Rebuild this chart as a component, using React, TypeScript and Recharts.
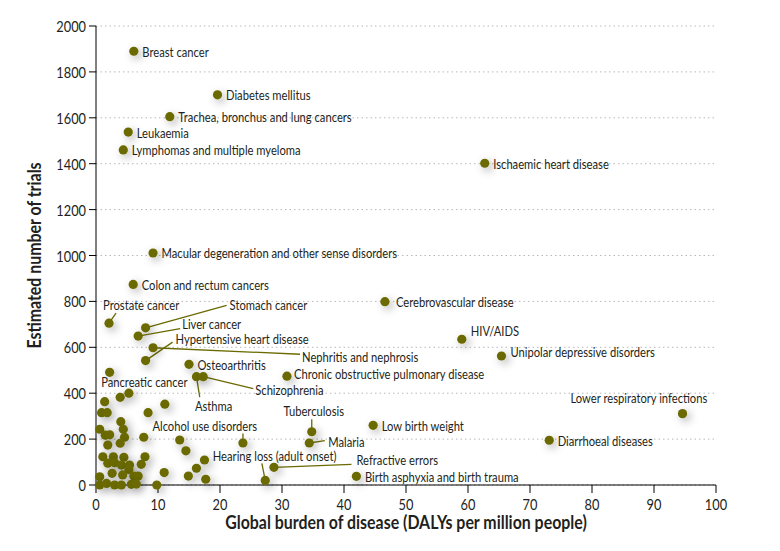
import { ScatterChart, Scatter, XAxis, YAxis, CartesianGrid, Label } from "recharts";

const OLIVE = "#6b6a00";
const INK = "#231f20";
const FONT = 'Lato, "Open Sans", sans-serif';
const SQUEEZE = 0.8; // condensed look

// labelled diseases: DALYs per million people vs estimated number of trials
const diseaseNames = [
  "Breast cancer", "Diabetes mellitus", "Trachea, bronchus and lung cancers", "Leukaemia",
  "Lymphomas and multiple myeloma", "Ischaemic heart disease", "Macular degeneration and other sense disorders",
  "Colon and rectum cancers", "Cerebrovascular disease", "Prostate cancer", "Stomach cancer", "Liver cancer",
  "Hypertensive heart disease", "Nephritis and nephrosis", "Osteoarthritis", "Asthma", "Schizophrenia",
  "Chronic obstructive pulmonary disease", "Pancreatic cancer", "HIV/AIDS", "Unipolar depressive disorders",
  "Lower respiratory infections", "Tuberculosis", "Low birth weight", "Malaria", "Alcohol use disorders",
  "Diarrhoeal diseases", "Hearing loss (adult onset)", "Refractive errors", "Birth asphyxia and birth trauma",
];
const dalys = [
  6.1, 19.6, 11.9, 5.2, 4.4, 62.7, 9.2, 6.0, 46.6, 2.1, 8.0, 6.8, 8.0, 9.2, 15.0,
  16.2, 17.3, 30.8, 2.2, 59.0, 65.4, 94.6, 34.8, 44.7, 34.4, 23.7, 73.1, 27.3, 28.7, 42.0,
];
const trials = [
  1890, 1700, 1605, 1538, 1460, 1402, 1011, 874, 799, 705, 685, 649, 542, 598, 526,
  472, 472, 474, 491, 635, 562, 311, 232, 260, 183, 183, 195, 20, 77, 38,
];

// unlabelled diseases in the crowd near the origin
const otherDalys = [
  1.4, 3.9, 5.3, 0.9, 1.8, 11.1, 8.4, 4.0, 0.6, 1.5, 2.2, 4.4, 4.6, 13.5, 1.9, 3.9, 7.7, 14.5,
  1.1, 2.8, 7.9, 4.5, 1.9, 3.0, 4.1, 5.4, 7.3, 5.3, 16.2, 17.5, 0.6, 2.6, 4.3, 6.1, 6.8, 11.0,
  14.9, 0.6, 1.7, 3.0, 4.1, 5.7, 6.5, 9.8, 17.7,
];
const otherTrials = [
  363, 382, 400, 315, 315, 352, 315, 276, 243, 217, 219, 243, 208, 196, 174, 182, 208, 149,
  123, 123, 123, 121, 95, 97, 87, 87, 90, 68, 73, 109, 36, 51, 44, 39, 39, 54,
  39, 0, 7, 0, 0, 3, 4, 0, 25,
];

const xTicks = [0, 10, 20, 30, 40, 50, 60, 70, 80, 90, 100];
const yTicks = [0, 200, 400, 600, 800, 1000, 1200, 1400, 1600, 1800, 2000];

const labelled = diseaseNames.map((name, i) => ({ name, x: dalys[i], y: trials[i] }));
const others = otherDalys.map((x, i) => ({ x, y: otherTrials[i] }));

// where each label sits relative to its dot (px), plus optional leader line end
type Placement = { dx: number; dy: number; anchor?: "start" | "middle" | "end"; line?: [number, number] };
const placement: Record<string, Placement> = {
  "Cerebrovascular disease": { dx: 11, dy: 0 },
  "Prostate cancer": { dx: -6, dy: -19, line: [7, -10] },
  "Stomach cancer": { dx: 84, dy: -23.5, line: [81, -22.5] },
  "Liver cancer": { dx: 44, dy: -12.5, line: [42, -7.5] },
  "Hypertensive heart disease": { dx: 30, dy: -22.5, line: [27, -18.5] },
  "Nephritis and nephrosis": { dx: 149, dy: 9, line: [147, 6.5] },
  Asthma: { dx: -1.5, dy: 29, line: [3.3, 20.5] },
  Schizophrenia: { dx: 52, dy: 12.5, line: [50, 12] },
  "Chronic obstructive pulmonary disease": { dx: 7, dy: -3 },
  "Pancreatic cancer": { dx: -8.5, dy: 9 },
  Tuberculosis: { dx: 2, dy: -21.5, anchor: "middle", line: [0, -12.5] },
  Malaria: { dx: 19, dy: -1.5, line: [15.5, -2.3] },
  "Alcohol use disorders": { dx: -90.5, dy: -17.5, line: [0, -9.5] },
  "Hearing loss (adult onset)": { dx: -52.5, dy: -24.5, line: [-3.4, -17] },
  "Refractive errors": { dx: 82.5, dy: -7.5, line: [77.5, -3] },
  "HIV/AIDS": { dx: 9, dy: -8.5 },
  "Unipolar depressive disorders": { dx: 9, dy: -4.3 },
  "Lower respiratory infections": { dx: -112, dy: -16.5 },
};

function NarrowText(props: {
  x: number; y: number; size: number; anchor?: string; bold?: boolean; rotate?: number; squeeze?: number; children: string;
}) {
  const { x, y, size, anchor = "start", bold, rotate = 0, squeeze = SQUEEZE, children } = props;
  return (
    <text
      transform={`translate(${x},${y}) rotate(${rotate}) scale(${squeeze},1)`}
      textAnchor={anchor}
      dominantBaseline="central"
      fontFamily={FONT}
      fontSize={size}
      fontWeight={bold ? "bold" : "normal"}
      fill={INK}
    >
      {children}
    </text>
  );
}

function LabelledDot(props: any) {
  const { cx, cy, payload } = props;
  const p = placement[payload.name] ?? { dx: 8.5, dy: 0 };
  return (
    <g>
      {p.line && (
        <line x1={cx} y1={cy} x2={cx + p.line[0]} y2={cy + p.line[1]} stroke={OLIVE} strokeWidth={1.3} />
      )}
      <circle cx={cx} cy={cy} r={4.6} fill={OLIVE} filter="url(#dotShadow)" />
      <NarrowText x={cx + p.dx} y={cy + p.dy} size={14} anchor={p.anchor}>
        {payload.name}
      </NarrowText>
    </g>
  );
}

function PlainDot(props: any) {
  const { cx, cy } = props;
  return <circle cx={cx} cy={cy} r={4.6} fill={OLIVE} filter="url(#dotShadow)" />;
}

function XTick(props: any) {
  const { x, y, payload } = props;
  return (
    <NarrowText x={x} y={y + 8} size={16} anchor="middle">
      {String(payload.value)}
    </NarrowText>
  );
}

function YTick(props: any) {
  const { x, y, payload } = props;
  return (
    <NarrowText x={x} y={y} size={16} anchor="end">
      {String(payload.value)}
    </NarrowText>
  );
}

export default function App() {
  return (
    <div style={{ position: "relative", width: 764, height: 535 }}>
      <svg width={0} height={0} style={{ position: "absolute" }}>
        <defs>
          <filter id="dotShadow" x="-300%" y="-300%" width="700%" height="700%">
            <feDropShadow dx={3} dy={3} stdDeviation={4} floodColor="#000" floodOpacity={0.33} />
          </filter>
        </defs>
      </svg>
      <ScatterChart width={764} height={535} margin={{ top: 18, right: 56, bottom: 8, left: 0 }}>
        <CartesianGrid vertical={false} stroke="#b8b8b8" strokeDasharray="1.5 3" />
        <XAxis
          type="number"
          dataKey="x"
          domain={[0, 100]}
          ticks={xTicks}
          interval={0}
          height={50}
          tickSize={8}
          tickMargin={3}
          tick={XTick}
          axisLine={{ stroke: "#000" }}
          tickLine={{ stroke: "#000" }}
        >
          <Label
            content={({ viewBox }: any) => (
              <NarrowText
                x={viewBox.x + viewBox.width / 2}
                y={viewBox.y + 37}
                size={18.5}
                squeeze={0.86}
                anchor="middle"
                bold
              >
                Global burden of disease (DALYs per million people)
              </NarrowText>
            )}
          />
        </XAxis>
        <YAxis
          type="number"
          dataKey="y"
          domain={[0, 2000]}
          ticks={yTicks}
          interval={0}
          width={88}
          tickSize={7}
          tickMargin={3}
          tick={YTick}
          axisLine={{ stroke: "#000" }}
          tickLine={{ stroke: "#000" }}
        >
          <Label
            content={({ viewBox }: any) => (
              <NarrowText
                x={viewBox.x + 26}
                y={viewBox.y + viewBox.height / 2}
                size={18.5}
                squeeze={0.86}
                anchor="middle"
                rotate={-90}
                bold
              >
                Estimated number of trials
              </NarrowText>
            )}
          />
        </YAxis>
        <Scatter data={others} shape={PlainDot} isAnimationActive={false} />
        <Scatter data={labelled} shape={LabelledDot} isAnimationActive={false} />
      </ScatterChart>
    </div>
  );
}
